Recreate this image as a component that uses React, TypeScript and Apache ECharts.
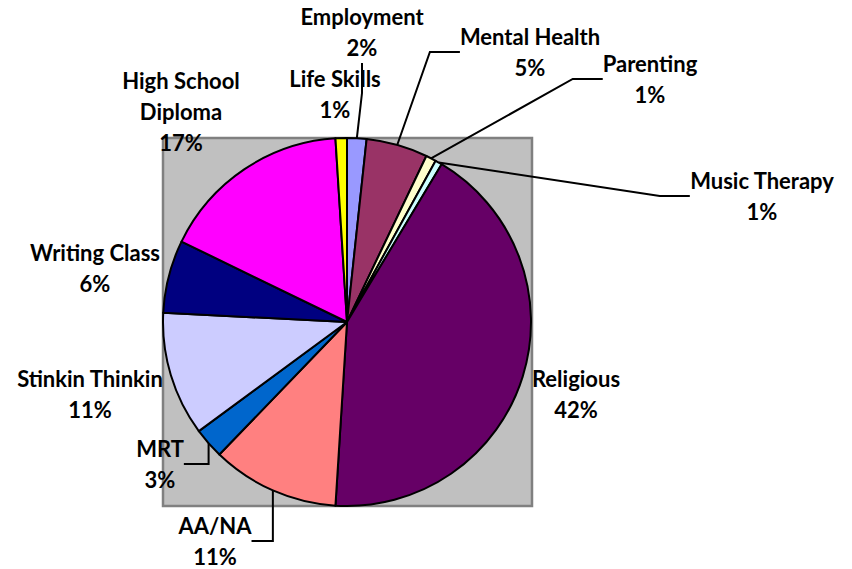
import React, { useEffect, useRef } from "react";
import * as echarts from "echarts";

const categories = [
  "Employment",
  "Mental Health",
  "Parenting",
  "Music Therapy",
  "Religious",
  "AA/NA",
  "MRT",
  "Stinkin Thinkin",
  "Writing Class",
  "High School Diploma",
  "Life Skills",
];
const values = [1.7, 5.4, 0.9, 0.6, 42.4, 11.2, 2.7, 10.9, 6.4, 16.8, 1.0];
const colors = [
  "#9999FF",
  "#993366",
  "#FFFFCC",
  "#CCFFFF",
  "#660066",
  "#FF8080",
  "#0066CC",
  "#CCCCFF",
  "#000080",
  "#FF00FF",
  "#FFFF00",
];
// label block centres (layout)
const labelPos: [number, number][] = [
  [362, 32],
  [530, 52],
  [650, 79],
  [762, 196],
  [576, 394],
  [215, 541],
  [160, 464],
  [90, 394],
  [95, 268],
  [181, 111],
  [335, 94],
];
const showLine = [true, true, true, true, false, true, true, false, false, false, false];

export default function App() {
  const ref = useRef<HTMLDivElement>(null);
  useEffect(() => {
    if (!ref.current) return;
    const chart = echarts.init(ref.current, null, { renderer: "svg" });
    chart.setOption({
      animation: false,
      backgroundColor: "#ffffff",
      graphic: [
        {
          type: "rect",
          z: -10,
          silent: true,
          shape: { x: 163, y: 138, width: 369, height: 368 },
          style: { fill: "#C0C0C0", stroke: "#808080", lineWidth: 2.5 },
        },
      ],
      series: [
        {
          type: "pie",
          center: [347, 322],
          radius: 184,
          startAngle: 90,
          clockwise: true,
          avoidLabelOverlap: false,
          itemStyle: { borderColor: "#000", borderWidth: 2 },
          label: {
            show: true,
            position: "outside",
            fontFamily: "Lato",
            fontWeight: "bold",
            fontSize: 22,
            lineHeight: 31,
            color: "#000",
            align: "center",
            formatter: (p: any) =>
              (p.name === "High School Diploma" ? "High School\nDiploma" : p.name) +
              "\n" +
              Math.round(p.percent) +
              "%",
          },
          labelLine: { show: true, lineStyle: { color: "#000", width: 2 } },
          emphasis: { disabled: true },
          labelLayout: (p: any) => ({
            x: labelPos[p.dataIndex][0],
            y: labelPos[p.dataIndex][1],
            align: "center",
            verticalAlign: "middle",
          }),
          data: categories.map((c, i) => ({
            name: c,
            value: values[i],
            itemStyle: { color: colors[i] },
            labelLine: { show: showLine[i] },
          })),
        },
      ],
    });
    return () => chart.dispose();
  }, []);
  return (
    <div
      ref={ref}
      style={{ position: "fixed", left: 0, top: 0, width: 852, height: 569 }}
    />
  );
}
